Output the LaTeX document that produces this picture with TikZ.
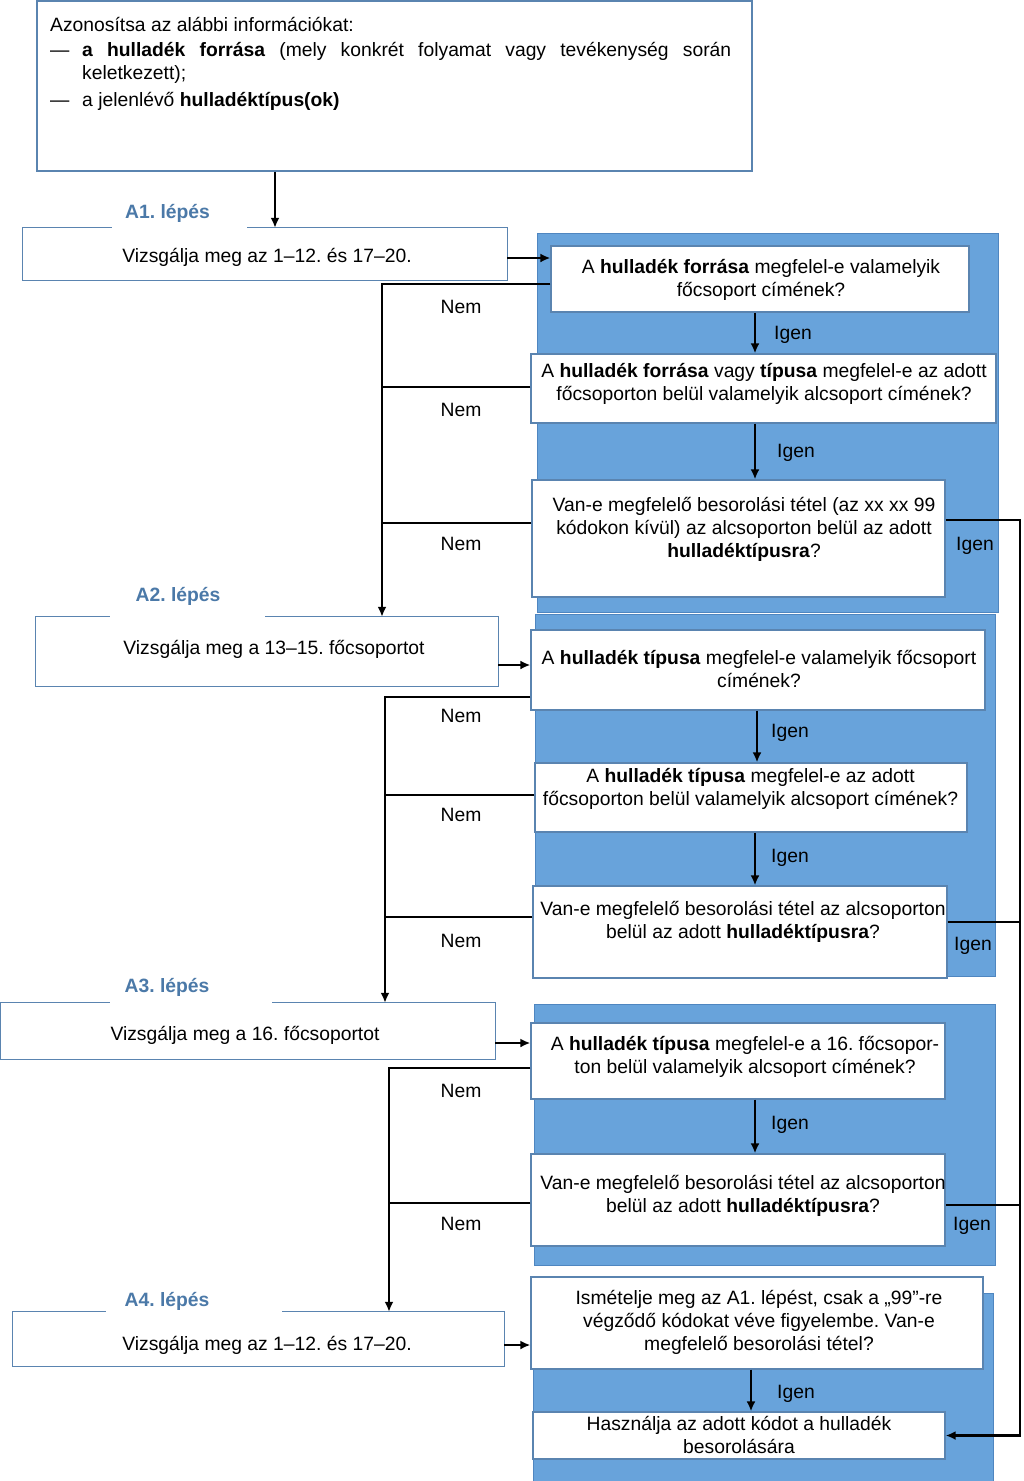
\documentclass[tikz,border=0pt]{standalone}
\usepackage{fontspec}
\setmainfont{Liberation Sans}
\usetikzlibrary{arrows.meta}
\definecolor{boxc}{HTML}{5A84B0}
\definecolor{lblc}{HTML}{4B79A8}
\definecolor{panelc}{HTML}{68A3DB}
\definecolor{paneld}{HTML}{4F86C0}
\frenchspacing
\begin{document}
\begin{tikzpicture}[x=1pt,y=-1pt,
  every node/.style={font=\fontsize{19.3}{23}\selectfont},
  qbox/.style={draw=boxc, line width=1.3pt, fill=white, inner sep=0pt},
  sbox/.style={draw=none, fill=white, inner sep=0pt},
  boxline/.style={draw=boxc, line width=1.3pt},
  qtext/.style={align=center, inner sep=0pt,
    execute at begin node={\rule{0pt}{18.5pt}},
    execute at end node={\rule[-5pt]{0pt}{5pt}}},
  panel/.style={draw=paneld, line width=1pt, fill=panelc, inner sep=0pt},
  steplbl/.style={font=\fontsize{19.3}{23}\selectfont\bfseries, text=lblc, inner sep=0pt,
    execute at begin node={\rule{0pt}{18.5pt}},
    execute at end node={\rule[-5pt]{0pt}{5pt}}},
  lbl/.style={inner sep=0pt,
    execute at begin node={\rule{0pt}{18.5pt}},
    execute at end node={\rule[-5pt]{0pt}{5pt}}},
  conn/.style={line width=2.8pt, black},
  arr/.style={conn, -{Latex[length=10pt,width=9pt]}}]

\useasboundingbox (0,0) rectangle (1024,1481);
\fill[white] (0,0) rectangle (1024,1481);

% panels
\node[panel, minimum width=461pt, minimum height=379pt] (p1) at (767.5,422.5) {};
\node[panel, minimum width=460pt, minimum height=362pt] (p2) at (765,795) {};
\node[panel, minimum width=461pt, minimum height=261pt] (p3) at (764.5,1134.5) {};
\node[panel, minimum width=460pt, minimum height=189pt] (p4) at (763,1387.5) {};

% top box
\node[qbox, minimum width=715pt, minimum height=170pt] (top) at (394.5,86) {};
\node[anchor=north west, inner sep=0pt, text width=681pt, align=justify] (toptext) at (50,12.5)
{\hyphenpenalty=10000\exhyphenpenalty=10000\parindent=0pt\parskip=0pt
\noindent\rule{0pt}{18.5pt}Azonosítsa az alábbi információkat:\par\vspace{2pt}
\hangindent=32pt\hangafter=1\noindent\makebox[32pt][l]{—}\textbf{a hulladék forrása} (mely konkrét folyamat vagy tevékenység során keletkezett);\par\vspace{4pt}
\noindent\makebox[32pt][l]{—}a jelenlévő \textbf{hulladéktípus(ok)}\par};

% step boxes
\node[sbox, minimum width=484pt, minimum height=52pt] (A1) at (265,254) {};
\node[sbox, minimum width=462pt, minimum height=69pt] (A2) at (267,651.5) {};
\node[sbox, minimum width=494pt, minimum height=56pt] (A3) at (248,1031) {};
\node[sbox, minimum width=491pt, minimum height=54pt] (A4) at (258.5,1339) {};
\draw[boxline] ([xshift=89pt]A1.north west) -- (A1.north west) -- (A1.south west) -- (A1.south east) -- (A1.north east) -- ([xshift=224pt]A1.north west);
\draw[boxline] ([xshift=74pt]A2.north west) -- (A2.north west) -- (A2.south west) -- (A2.south east) -- (A2.north east) -- ([xshift=229pt]A2.north west);
\draw[boxline] ([xshift=109pt]A3.north west) -- (A3.north west) -- (A3.south west) -- (A3.south east) -- (A3.north east) -- ([xshift=271pt]A3.north west);
\draw[boxline] ([xshift=93pt]A4.north west) -- (A4.north west) -- (A4.south west) -- (A4.south east) -- (A4.north east) -- ([xshift=269pt]A4.north west);
\node[lbl] (A1t) at (267,256) {Vizsgálja meg az 1–12. és 17–20.};
\node[lbl] (A2t) at (274,648) {Vizsgálja meg a 13–15. főcsoportot};
\node[lbl] (A3t) at (245,1034) {Vizsgálja meg a 16. főcsoportot};
\node[lbl] (A4t) at (267,1344) {Vizsgálja meg az 1–12. és 17–20.};
\node[steplbl] (L1) at (167.5,212) {A1. lépés};
\node[steplbl] (L2) at (178,595) {A2. lépés};
\node[steplbl] (L3) at (167,986) {A3. lépés};
\node[steplbl] (L4) at (167,1300) {A4. lépés};

% question boxes
\node[qbox, minimum width=418pt, minimum height=66pt] (Q1) at (760,279) {};
\node[qbox, minimum width=465pt, minimum height=69pt] (Q2) at (763.5,388.5) {};
\node[qbox, minimum width=413pt, minimum height=117pt] (Q3) at (738.5,538.5) {};
\node[qbox, minimum width=454pt, minimum height=80pt] (Q4) at (758,670) {};
\node[qbox, minimum width=432pt, minimum height=69pt] (Q5) at (751,797.5) {};
\node[qbox, minimum width=414pt, minimum height=92pt] (Q6) at (740,932) {};
\node[qbox, minimum width=414pt, minimum height=76pt] (Q7) at (738,1061) {};
\node[qbox, minimum width=414pt, minimum height=92pt] (Q8) at (738,1200) {};
\node[qbox, minimum width=452pt, minimum height=92pt] (Q9) at (757,1323) {};
\node[qbox, minimum width=412pt, minimum height=47pt] (Q10) at (739,1435.5) {};

\node[qtext] (Q1t) at (761,280) {A \textbf{hulladék forrása} megfelel-e valamelyik\\főcsoport címének?};
\node[qtext] (Q2t) at (764,384) {A \textbf{hulladék forrása} vagy \textbf{típusa} megfelel-e az adott\\főcsoporton belül valamelyik alcsoport címének?};
\node[qtext] (Q3t) at (744,530) {Van-e megfelelő besorolási tétel (az xx xx 99\\kódokon kívül) az alcsoporton belül az adott\\\textbf{hulladéktípusra}?};
\node[qtext] (Q4t) at (759,671.5) {A \textbf{hulladék típusa} megfelel-e valamelyik főcsoport\\címének?};
\node[qtext] (Q5t) at (750.5,789.5) {A \textbf{hulladék típusa} megfelel-e az adott\\főcsoporton belül valamelyik alcsoport címének?};
\node[qtext] (Q6t) at (743,922.5) {Van-e megfelelő besorolási tétel az alcsoporton\\belül az adott \textbf{hulladéktípusra}?};
\node[qtext] (Q7t) at (745,1057.5) {A \textbf{hulladék típusa} megfelel-e a 16. főcsopor-\\ton belül valamelyik alcsoport címének?};
\node[qtext] (Q8t) at (743,1196.5) {Van-e megfelelő besorolási tétel az alcsoporton\\belül az adott \textbf{hulladéktípusra}?};
\node[qtext] (Q9t) at (759,1323) {Ismételje meg az A1. lépést, csak a „99”-re\\végződő kódokat véve figyelembe. Van-e\\megfelelő besorolási tétel?};
\node[qtext] (Q10t) at (739,1437) {Használja az adott kódot a hulladék\\besorolására};

% connectors
\coordinate (n1) at (382,284);
\coordinate (n2) at (385,697);
\coordinate (n3) at (389,1068);
\coordinate (rc) at (1020,520);

\draw[arr] (top.south -| 275,0) -- (A1.north -| 275,0);
\draw[arr] (A1.east |- 0,258) -- (Q1.west |- 0,258);
\draw[arr] (Q1.west |- n1) -| (A2.north -| n1);
\draw[conn] (Q2.west |- 0,387) -- (n1 |- 0,387);
\draw[conn] (Q3.west |- 0,523) -- (n1 |- 0,523);
\draw[arr] (Q1.south -| 755,0) -- (Q2.north -| 755,0);
\draw[arr] (Q2.south -| 755,0) -- (Q3.north -| 755,0);
\draw[arr] (Q3.east |- rc) -- (rc) |- (Q10.east);

\draw[arr] (A2.east |- 0,665) -- (Q4.west |- 0,665);
\draw[arr] (Q4.west |- n2) -| (A3.north -| n2);
\draw[conn] (Q5.west |- 0,795) -- (n2 |- 0,795);
\draw[conn] (Q6.west |- 0,917) -- (n2 |- 0,917);
\draw[arr] (Q4.south -| 757,0) -- (Q5.north -| 757,0);
\draw[arr] (Q5.south -| 755,0) -- (Q6.north -| 755,0);
\draw[conn] (Q6.east |- 0,922) -- (rc |- 0,922);

\draw[arr] (A3.east |- 0,1043) -- (Q7.west |- 0,1043);
\draw[arr] (Q7.west |- n3) -| (A4.north -| n3);
\draw[conn] (Q8.west |- 0,1203) -- (n3 |- 0,1203);
\draw[arr] (Q7.south -| 755,0) -- (Q8.north -| 755,0);
\draw[conn] (Q8.east |- 0,1205) -- (rc |- 0,1205);

\draw[arr] (A4.east |- 0,1345) -- (Q9.west |- 0,1345);
\draw[arr] (Q9.south -| 751,0) -- (Q10.north -| 751,0);

% labels
\node[lbl] (nem1) at (461,307) {Nem};
\node[lbl] (nem2) at (461,410) {Nem};
\node[lbl] (nem3) at (461,544) {Nem};
\node[lbl] (nem4) at (461,716) {Nem};
\node[lbl] (nem5) at (461,815) {Nem};
\node[lbl] (nem6) at (461,941) {Nem};
\node[lbl] (nem7) at (461,1091) {Nem};
\node[lbl] (nem8) at (461,1224) {Nem};
\node[lbl] (igen1) at (793,333) {Igen};
\node[lbl] (igen2) at (796,451) {Igen};
\node[lbl] (igen3) at (975,544) {Igen};
\node[lbl] (igen4) at (790,731) {Igen};
\node[lbl] (igen5) at (790,856) {Igen};
\node[lbl] (igen6) at (973,944) {Igen};
\node[lbl] (igen7) at (790,1123) {Igen};
\node[lbl] (igen8) at (972,1224) {Igen};
\node[lbl] (igen9) at (796,1392) {Igen};
\end{tikzpicture}
\end{document}
